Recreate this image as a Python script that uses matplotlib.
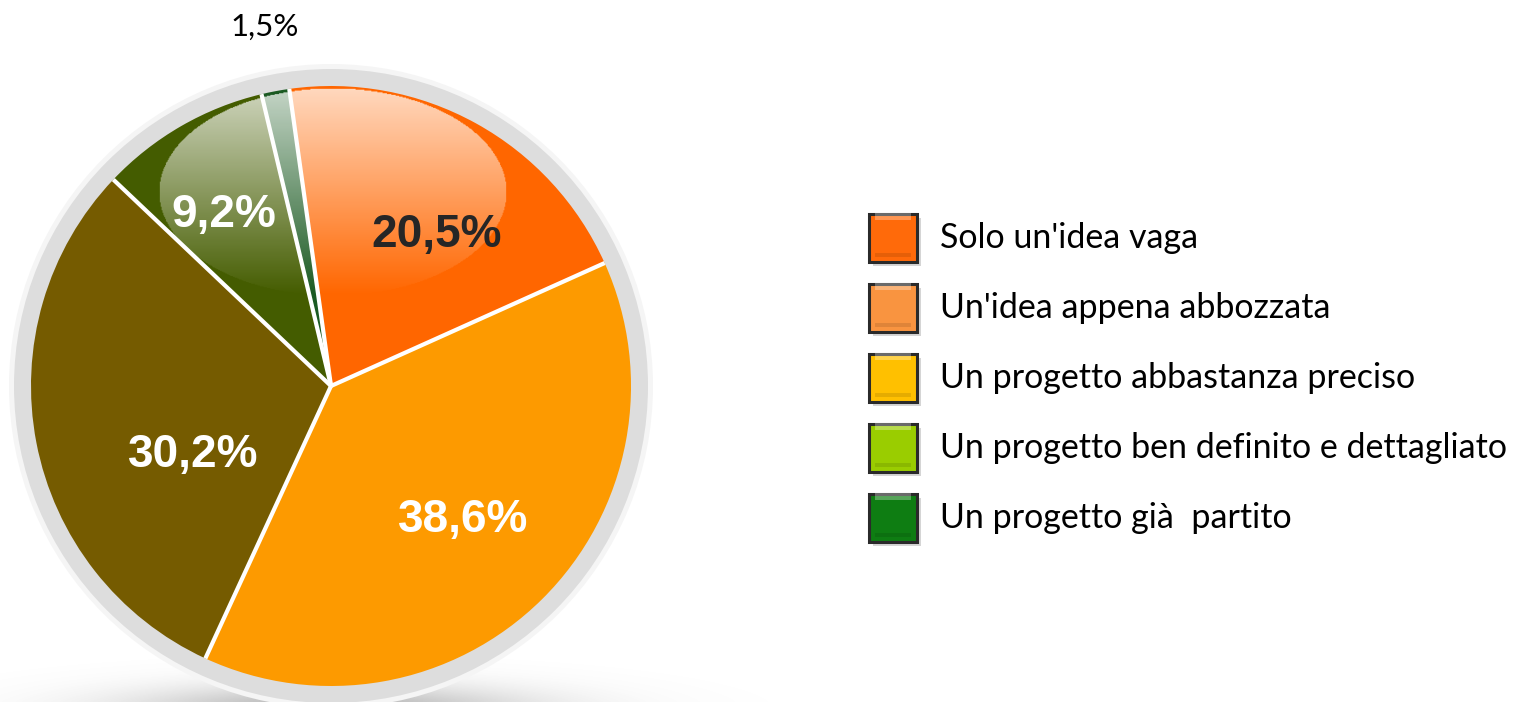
import numpy as np
import matplotlib.pyplot as plt
from matplotlib.patches import Circle, Rectangle

# dati
categorie = ["Solo un'idea vaga", "Un'idea appena abbozzata", "Un progetto abbastanza preciso",
             "Un progetto ben definito e dettagliato", "Un progetto già  partito"]
valori = [20.5, 38.6, 30.2, 9.2, 1.5]
etichette = ["20,5%", "38,6%", "30,2%", "9,2%", "1,5%"]
colori_torta = ["#FF6600", "#FD9A00", "#755B00", "#445C00", "#1B5A22"]
colori_legenda = ["#FF6A0A", "#F99440", "#FFC000", "#9ACD00", "#0E7D12"]

W, H = 1518, 702
def Y(py):
    return H - py  # da pixel (alto->basso) a coordinate dati

fig = plt.figure(figsize=(W / 100, H / 100), dpi=100)
ax = fig.add_axes([0, 0, 1, 1])

cx, cy, r = 331, Y(386), 300

# ombra morbida sotto la torta
gx = np.linspace(-100, 800, 450)
gy = np.linspace(630, 702, 40)
GX, GY = np.meshgrid(gx, gy)
a = np.exp(-((GX - cx) / 200) ** 2 - ((GY - 712) / 26) ** 2) * 0.55
ombra = np.zeros(GX.shape + (4,))
ombra[..., :3] = 0.45
ombra[..., 3] = a
ax.imshow(ombra, extent=(-100, 800, Y(702), Y(630)), aspect="auto", zorder=0, interpolation="bilinear")

# anello grigio
ax.add_patch(Circle((cx, cy), r + 22, color="#F5F5F5", zorder=1, lw=0))
ax.add_patch(Circle((cx, cy), r + 17, color="#DDDDDD", zorder=1, lw=0))

wedges, _ = ax.pie(valori, colors=colori_torta, startangle=98, counterclock=False,
                   center=(cx, cy), radius=r, wedgeprops=dict(linewidth=0))
for w in wedges:
    w.set_zorder(2)
    th = np.deg2rad(w.theta1)
    ax.plot([cx, cx + r * np.cos(th)], [cy, cy + r * np.sin(th)], color="white", lw=3,
            solid_capstyle="butt", zorder=4)

# riflesso lucido (ellisse con sfumatura)
ex, ey, ea, eb = 333, 192, 174, 104
hx = np.linspace(ex - ea, ex + ea, 400)
hy = np.linspace(ey - eb, ey + eb, 240)
HX, HY = np.meshgrid(hx, hy)
dentro = ((HX - ex) / ea) ** 2 + ((HY - ey) / eb) ** 2 <= 1
dentro &= (HX - cx) ** 2 + (HY - Y(cy)) ** 2 <= (r - 1) ** 2
alfa = np.clip(0.75 - 0.75 * (HY - (ey - eb)) / (2 * eb), 0, 1) * dentro
luce = np.ones(HX.shape + (4,))
luce[..., 3] = alfa
ax.imshow(luce, extent=(ex - ea, ex + ea, Y(ey + eb), Y(ey - eb)), aspect="auto", zorder=3,
          interpolation="bilinear")

# etichette percentuali
pos = [(437, 235), (463, 520), (193, 455), (224, 215)]
col_testo = ["#262626", "white", "white", "white"]
for (px, py), t, c in zip(pos, etichette[:4], col_testo):
    ax.text(px, Y(py), t, ha="center", va="center", fontsize=33, fontweight="bold",
            family="Liberation Sans", color=c, zorder=5)
ax.text(265, Y(27), etichette[4], ha="center", va="center", fontsize=22.5,
        family="Lato", color="black", zorder=5)

# legenda
for i, (lab, c) in enumerate(zip(categorie, colori_legenda)):
    yc = 238 + i * 70
    ax.add_patch(Rectangle((873, Y(yc + 28)), 48, 48, color="#888888", alpha=0.35, lw=0, zorder=2))
    ax.add_patch(Rectangle((869, Y(yc + 24)), 48, 48, facecolor=c, edgecolor="#2A2A2A", lw=2.2, zorder=3))
    ax.add_patch(Rectangle((875, Y(yc - 18)), 36, 7, facecolor="white", alpha=0.3, lw=0, zorder=4))
    ax.add_patch(Rectangle((875, Y(yc + 19)), 36, 4, facecolor="black", alpha=0.1, lw=0, zorder=4))
    ax.text(940, Y(yc), lab, ha="left", va="center", fontsize=24.5, family="Lato", color="black")

ax.set_xlim(0, W)
ax.set_ylim(0, H)
ax.set_aspect("auto")
ax.axis("off")
fig.savefig("out.png", dpi=100)
